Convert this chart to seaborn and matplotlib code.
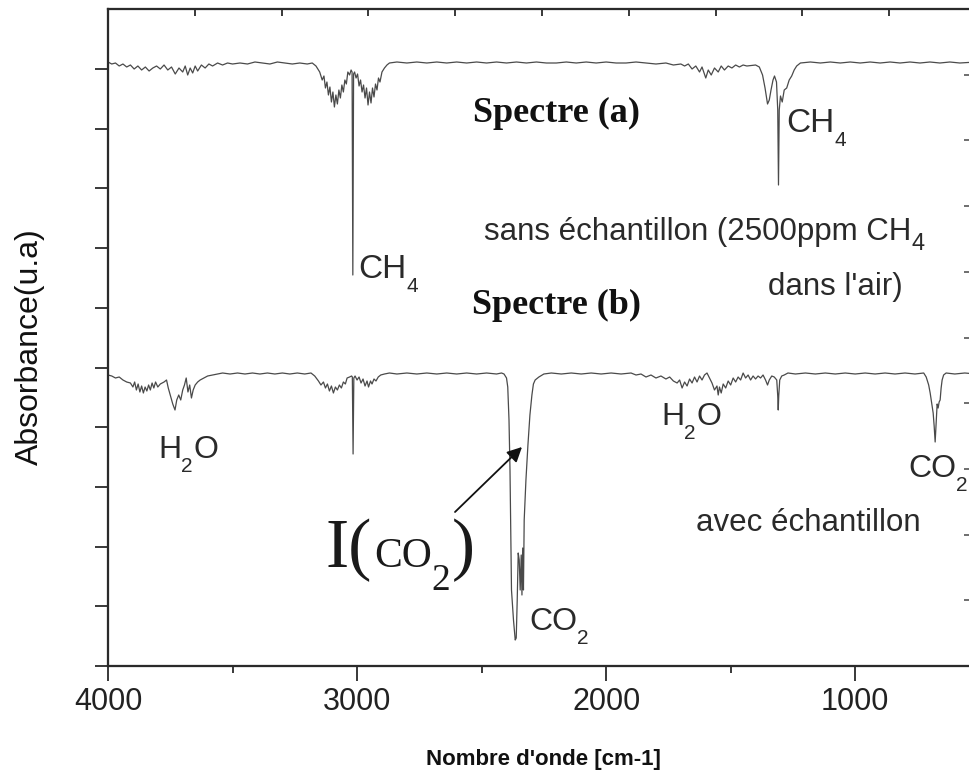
import numpy as np
import pandas as pd
import matplotlib
matplotlib.use("Agg")
import matplotlib.pyplot as plt
import seaborn as sns

# ---------------- data (wavenumber cm-1, absorbance u.a.) ----------------
spectre_a = [
    (4000, 604), (3985, 602), (3970, 603), (3955, 600), (3940, 602), (3925, 599),
    (3910, 601), (3895, 597), (3880, 600), (3865, 596), (3850, 599), (3835, 595),
    (3820, 598), (3805, 600), (3790, 597), (3775, 601), (3760, 596), (3745, 599),
    (3730, 592), (3715, 598), (3700, 594), (3690, 600), (3680, 591), (3670, 598),
    (3660, 593), (3650, 600), (3640, 595), (3625, 601), (3610, 598), (3595, 602),
    (3580, 600), (3560, 603), (3540, 601), (3520, 603), (3500, 602), (3470, 603),
    (3440, 602), (3410, 604), (3380, 603), (3350, 602), (3320, 604), (3290, 603),
    (3260, 602), (3230, 603), (3200, 602), (3180, 603), (3165, 600), (3150, 594),
    (3140, 586), (3133, 590), (3127, 578), (3121, 584), (3115, 571), (3109, 579),
    (3103, 564), (3097, 574), (3091, 559), (3085, 571), (3079, 562), (3073, 576),
    (3067, 568), (3061, 581), (3055, 574), (3049, 586), (3043, 582), (3037, 594),
    (3030, 591), (3024, 596), (3020, 594), (3017, 391), (3014, 592), (3010, 594),
    (3004, 588), (2998, 592), (2992, 580), (2986, 586), (2980, 574), (2974, 581),
    (2968, 568), (2962, 578), (2956, 561), (2950, 574), (2944, 563), (2938, 578),
    (2932, 569), (2926, 582), (2920, 576), (2914, 588), (2908, 584), (2900, 594),
    (2890, 598), (2880, 601), (2870, 603), (2840, 604), (2800, 603), (2760, 604),
    (2720, 603), (2680, 604), (2640, 603), (2600, 604), (2560, 603), (2520, 604),
    (2480, 603), (2440, 604), (2400, 603), (2360, 604), (2320, 603), (2280, 604),
    (2240, 603), (2200, 603), (2160, 604), (2120, 603), (2080, 604), (2040, 603),
    (2000, 604), (1960, 603), (1920, 603), (1880, 604), (1840, 603), (1800, 602),
    (1760, 603), (1730, 601), (1700, 602), (1685, 600), (1670, 602), (1655, 597),
    (1640, 600), (1625, 594), (1615, 599), (1600, 588), (1590, 596), (1578, 591),
    (1565, 598), (1550, 594), (1538, 600), (1525, 596), (1510, 600), (1495, 598),
    (1480, 601), (1465, 599), (1450, 601), (1435, 600), (1400, 601), (1385, 599),
    (1372, 591), (1362, 578), (1352, 562), (1345, 566), (1338, 576), (1330, 586),
    (1324, 590), (1316, 584), (1311, 556), (1308, 481), (1305, 556), (1300, 570),
    (1293, 564), (1285, 576), (1275, 578), (1265, 586), (1255, 590), (1245, 596),
    (1235, 600), (1220, 603), (1180, 604), (1140, 603), (1100, 604), (1060, 603),
    (1020, 604), (980, 603), (940, 604), (900, 603), (860, 604), (820, 603),
    (780, 604), (740, 603), (700, 604), (660, 603), (620, 604), (580, 603),
    (515, 604),
]

spectre_b = [
    (4000, 291), (3985, 290), (3970, 288), (3955, 289), (3940, 286), (3925, 284),
    (3910, 283), (3900, 279), (3893, 284), (3886, 276), (3879, 282), (3872, 274),
    (3865, 280), (3858, 273), (3851, 279), (3844, 275), (3837, 281), (3830, 276),
    (3823, 283), (3816, 278), (3809, 284), (3800, 279), (3790, 282), (3775, 284),
    (3765, 286), (3758, 278), (3750, 271), (3740, 262), (3731, 256), (3724, 266),
    (3716, 271), (3708, 266), (3700, 276), (3693, 281), (3686, 288), (3679, 274),
    (3672, 281), (3665, 268), (3658, 276), (3650, 281), (3640, 284), (3630, 286),
    (3615, 288), (3600, 290), (3580, 291), (3560, 292), (3540, 293), (3510, 292),
    (3480, 293), (3450, 292), (3420, 293), (3390, 292), (3360, 293), (3330, 292),
    (3300, 293), (3270, 292), (3240, 293), (3210, 292), (3185, 293), (3170, 290),
    (3155, 285), (3145, 281), (3135, 284), (3127, 278), (3119, 282), (3111, 275),
    (3103, 280), (3095, 273), (3087, 279), (3079, 276), (3071, 281), (3063, 278),
    (3055, 284), (3047, 282), (3040, 288), (3030, 289), (3022, 290), (3019, 289),
    (3016, 212), (3013, 288), (3008, 290), (3000, 286), (2992, 289), (2984, 283),
    (2976, 287), (2968, 280), (2960, 285), (2954, 279), (2946, 285), (2940, 282),
    (2932, 287), (2924, 285), (2915, 289), (2905, 291), (2890, 292), (2870, 293),
    (2840, 292), (2800, 293), (2760, 292), (2720, 293), (2680, 292), (2640, 293),
    (2600, 292), (2560, 293), (2520, 292), (2480, 293), (2440, 292), (2420, 293),
    (2410, 292), (2400, 288), (2395, 279), (2390, 246), (2386, 196), (2383, 136),
    (2380, 76), (2372, 46), (2365, 26), (2361, 28), (2357, 66), (2353, 113),
    (2349, 106), (2345, 76), (2341, 111), (2338, 71), (2335, 118), (2332, 76),
    (2329, 146), (2322, 186), (2314, 221), (2306, 251), (2298, 271), (2292, 282),
    (2285, 286), (2270, 289), (2250, 292), (2220, 293), (2180, 292), (2140, 293),
    (2100, 292), (2060, 293), (2020, 292), (1980, 293), (1940, 292), (1900, 293),
    (1880, 291), (1860, 292), (1840, 289), (1820, 291), (1800, 288), (1780, 290),
    (1760, 287), (1745, 289), (1730, 285), (1715, 283), (1705, 286), (1695, 278),
    (1685, 284), (1675, 280), (1665, 287), (1655, 283), (1645, 289), (1635, 284),
    (1625, 290), (1615, 286), (1605, 291), (1595, 293), (1585, 288), (1575, 283),
    (1565, 276), (1555, 280), (1550, 271), (1545, 279), (1538, 273), (1530, 282),
    (1520, 278), (1510, 285), (1500, 281), (1490, 288), (1480, 284), (1470, 289),
    (1460, 286), (1450, 293), (1440, 288), (1430, 291), (1420, 286), (1410, 290),
    (1400, 287), (1390, 290), (1380, 288), (1370, 291), (1360, 286), (1352, 281),
    (1345, 286), (1335, 290), (1325, 289), (1315, 286), (1311, 270), (1309, 256),
    (1307, 270), (1303, 286), (1295, 290), (1285, 291), (1270, 293), (1240, 292),
    (1200, 293), (1160, 292), (1120, 293), (1080, 292), (1040, 293), (1000, 292),
    (960, 293), (920, 292), (880, 293), (840, 292), (800, 293), (760, 292),
    (725, 293), (715, 289), (705, 281), (699, 273), (693, 263), (687, 253),
    (683, 240), (679, 224), (675, 244), (671, 262), (667, 258), (663, 264),
    (659, 266), (655, 278), (651, 286), (645, 291), (635, 293), (600, 292),
    (560, 293), (515, 292),
]

x_ticks = [4000, 3000, 2000, 1000]
x_tick_labels = ["4000", "3000", "2000", "1000"]
x_minor_ticks = [3500, 2500, 1500]

# ---------------- style ----------------
sns.set_style("ticks")
plt.rcParams["font.family"] = ["Liberation Sans", "DejaVu Sans"]

W, H = 970, 776
fig = plt.figure(figsize=(W / 100, H / 100), dpi=100)
fig.patch.set_facecolor("white")
ax = fig.add_axes([108 / W, (H - 666) / H, (976 - 108) / W, 657 / H])
ax.set_facecolor("white")

rows = []
for name, pts in (("a", spectre_a), ("b", spectre_b)):
    for wn, val in pts:
        rows.append({"wn": wn, "absorbance": val, "spectre": name})
df = pd.DataFrame(rows)

sns.lineplot(data=df, x="wn", y="absorbance", units="spectre", estimator=None,
             color="#4a4a4a", linewidth=0.9, ax=ax, legend=False)

ax.set_xlim(4000, 515)
ax.set_ylim(0, 657)
ax.set_xlabel("")
ax.set_ylabel("")

ax.set_xticks(x_ticks)
ax.set_xticklabels(x_tick_labels)
ax.set_xticks(x_minor_ticks, minor=True)
ax.set_yticks(np.arange(11) * 59.7)
ax.set_yticklabels([])

for sp in ax.spines.values():
    sp.set_linewidth(1.5)
    sp.set_color("#2a2a2a")
    sp.set_visible(True)

ax.tick_params(axis="x", which="major", direction="out", length=11, width=1.3,
               pad=4, labelsize=22, colors="#2a2a2a", labelcolor="#222222")
ax.tick_params(axis="x", which="minor", direction="out", length=5, width=1.3,
               colors="#2a2a2a")
ax.tick_params(axis="y", which="major", direction="out", length=9.5, width=1.3,
               colors="#2a2a2a", labelleft=False)

axt = ax.twiny()
axt.set_xlim(0, 10)
axt.set_xticks(range(1, 10))
axt.tick_params(axis="x", direction="in", length=5, width=1.3, labeltop=False,
                top=True, colors="#2a2a2a")
for sp in axt.spines.values():
    sp.set_linewidth(1.5)
    sp.set_color("#2a2a2a")

axr = ax.twinx()
axr.set_ylim(0, 10)
axr.set_yticks(range(1, 10))
axr.tick_params(axis="y", direction="in", length=9, width=1.2, labelright=False,
                colors="#555555")
for sp in axr.spines.values():
    sp.set_linewidth(1.5)
    sp.set_color("#2a2a2a")

renderer = fig.canvas.get_renderer()


def ftext(x, y, s, **kw):
    return fig.text(x / W, 1 - y / H, s, ha=kw.pop("ha", "left"),
                    va=kw.pop("va", "baseline"), **kw)


def chem(x, y, parts, size=23, subsize=15, drop=14, color="#2a2a2a", gap=1):
    """Draw text pieces in sequence; pieces flagged True are lowered subscripts."""
    cur = x
    for s, sub in parts:
        t = ftext(cur, y + (drop if sub else 0), s,
                  fontsize=subsize if sub else size, color=color)
        bb = t.get_window_extent(renderer=renderer)
        cur += bb.width + (gap if sub else 0)


serif = ["Liberation Serif", "DejaVu Serif"]
ftext(473, 122, "Spectre (a)", family=serif, weight="bold", fontsize=26, color="#111111")
ftext(472, 314, "Spectre (b)", family=serif, weight="bold", fontsize=26, color="#111111")

chem(358, 278, [("CH", False), ("4", True)], size=24)
chem(786, 132, [("CH", False), ("4", True)], size=24)
chem(158, 458, [("H", False), ("2", True), ("O", False)])
chem(661, 425, [("H", False), ("2", True), ("O", False)])
chem(908, 477, [("CO", False), ("2", True)])
chem(529, 630, [("CO", False), ("2", True)])
chem(484, 240, [("sans échantillon (2500ppm CH", False), ("4", True)],
     size=22.5, subsize=17, drop=10, gap=3)

txt = dict(fontsize=22.5, color="#2a2a2a")
ftext(768, 295, "dans l'air)", **txt)
ftext(696, 531, "avec échantillon", **txt)

# I(CO2) annotation
ftext(326, 567, "I(", family=serif, fontsize=50, color="#1a1a1a")
ftext(374, 567, "CO", family=serif, fontsize=30, color="#1a1a1a")
ftext(431, 590, "2", family=serif, fontsize=27, color="#1a1a1a")
ftext(452, 567, ")", family=serif, fontsize=50, color="#1a1a1a")
ax.annotate("", xy=(522, H - 447), xycoords="figure pixels",
            xytext=(455, H - 512), textcoords="figure pixels",
            arrowprops=dict(arrowstyle="-|>", color="#111111", lw=1.3,
                            mutation_scale=22, shrinkA=0, shrinkB=0))

# axis titles
ftext(30, 347, "Absorbance(u.a)", rotation=90, ha="center", va="center",
      fontsize=23, color="#111111")
ftext(543, 760, "Nombre d'onde [cm-1]", ha="center", va="center",
      fontsize=16, weight="bold", color="#111111")

fig.savefig("out.png", dpi=100, facecolor="white")
